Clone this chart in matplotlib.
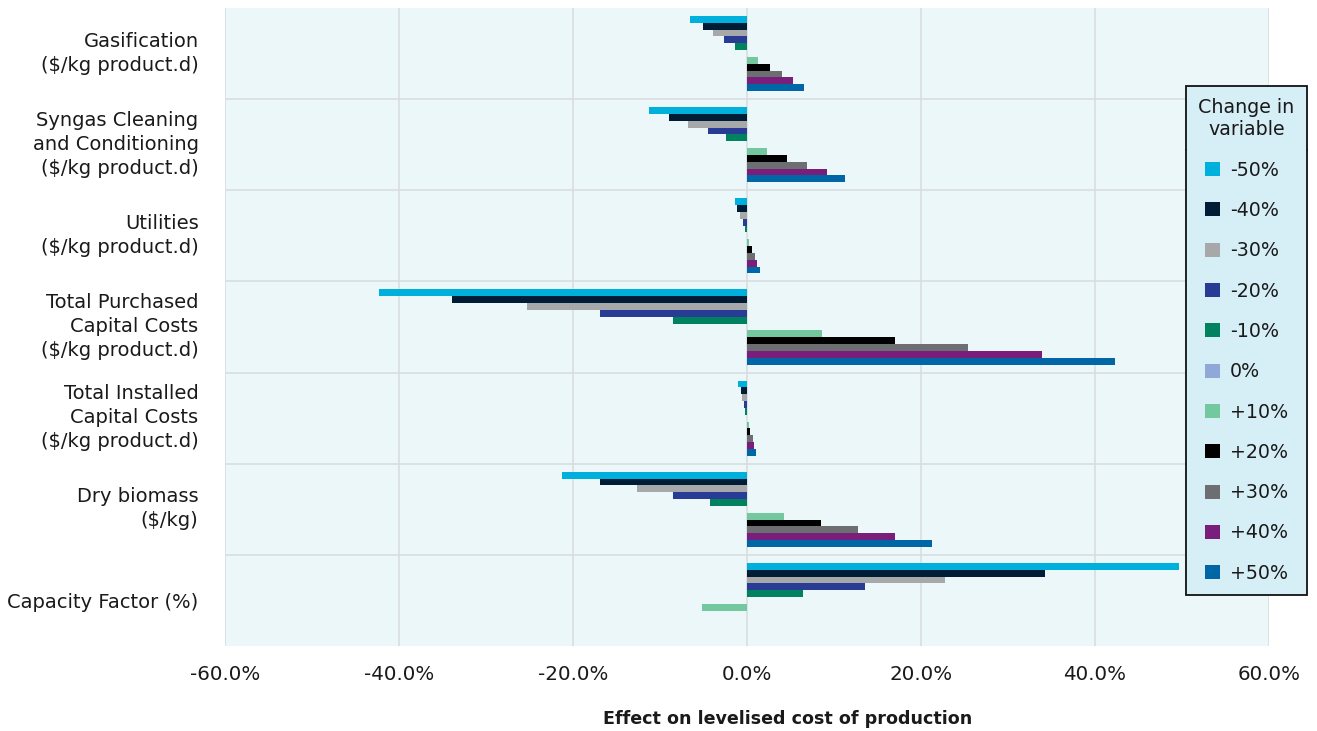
import numpy as np
import matplotlib
matplotlib.use("Agg")
import matplotlib.pyplot as plt
from matplotlib.lines import Line2D
from matplotlib.transforms import ScaledTranslation

plt.rcParams['font.family'] = ['DejaVu Sans']

categories = [
    "Gasification\n($/kg product.d)",
    "Syngas Cleaning\nand Conditioning\n($/kg product.d)",
    "Utilities\n($/kg product.d)",
    "Total Purchased\nCapital Costs\n($/kg product.d)",
    "Total Installed\nCapital Costs\n($/kg product.d)",
    "Dry biomass\n($/kg)",
    "Capacity Factor (%)",
]
series_labels = ["-50%", "-40%", "-30%", "-20%", "-10%", "0%",
                 "+10%", "+20%", "+30%", "+40%", "+50%"]
series_colors = ["#00b0dc", "#001d35", "#a7a8aa", "#283c96", "#008261", "#8fa8d8",
                 "#74c8a0", "#000000", "#6d6e71", "#7a1e7c", "#0066a6"]

# values in percent, one list per category, order -50% ... +50%
gasification = [-6.6, -5.1, -3.9, -2.6, -1.4, 0.0, 1.3, 2.7, 4.0, 5.3, 6.6]
syngas       = [-11.3, -9.0, -6.8, -4.5, -2.4, 0.0, 2.3, 4.6, 6.9, 9.2, 11.3]
utilities    = [-1.35, -1.1, -0.8, -0.45, -0.25, 0.0, 0.25, 0.55, 0.9, 1.2, 1.45]
purchased    = [-42.3, -33.9, -25.3, -16.9, -8.5, 0.0, 8.6, 17.0, 25.4, 33.9, 42.3]
installed    = [-1.0, -0.72, -0.55, -0.35, -0.2, 0.0, 0.2, 0.4, 0.65, 0.8, 1.05]
biomass      = [-21.3, -16.9, -12.7, -8.5, -4.3, 0.0, 4.2, 8.5, 12.8, 17.0, 21.3]
capacity     = [49.6, 34.3, 22.8, 13.6, 6.4, 0.0, -5.2, np.nan, np.nan, np.nan, np.nan]

xticks = [-60, -40, -20, 0, 20, 40, 60]
xtick_labels = ["-60.0%", "-40.0%", "-20.0%", "0.0%", "20.0%", "40.0%", "60.0%"]

data = np.array([gasification, syngas, utilities, purchased, installed, biomass, capacity])

W, H = 1317, 731
fig = plt.figure(figsize=(W / 100, H / 100), dpi=100)
ax = fig.add_axes([225 / W, 1 - 646 / H, (1269 - 225) / W, (646 - 8) / H])
ax.set_facecolor("#ecf7f9")

n_cat = len(categories)
n_ser = len(series_labels)
h = 0.075
ypos = np.arange(n_cat)
for j in range(n_ser):
    ax.barh(ypos + (j - (n_ser - 1) / 2) * h, data[:, j], height=h,
            color=series_colors[j], label=series_labels[j], zorder=3,
            edgecolor="none")

text_color = "#1a1a1a"
ax.set_ylim(n_cat - 0.5, -0.5)
ax.set_xlim(-60, 60)
ax.set_xticks(xticks)
ax.set_xticklabels(xtick_labels, fontsize=14.3, color=text_color)
ax.set_yticks(ypos)
ax.set_yticklabels(categories, fontsize=14, color=text_color, linespacing=1.33)
ax.set_yticks(np.arange(0.5, n_cat - 0.5, 1), minor=True)
ax.tick_params(axis="both", which="both", length=0)
ax.tick_params(axis="y", pad=19)
ax.tick_params(axis="x", pad=14)
ax.grid(axis="x", which="major", color="#d9dde0", linewidth=1.2, zorder=0)
ax.grid(axis="y", which="minor", color="#d9dde0", linewidth=1.2, zorder=0)
for s in ax.spines.values():
    s.set_visible(False)

shift = ScaledTranslation(0, 0.05, fig.dpi_scale_trans)
for lab in ax.get_yticklabels():
    if "\n" in lab.get_text():
        lab.set_transform(lab.get_transform() + shift)

ax.set_xlabel("Effect on levelised cost of production", fontsize=12.6,
              fontweight="bold", color=text_color)
ax.xaxis.set_label_coords((787.5 - 225) / (1269 - 225), -(710 - 646) / (646 - 8))

fs = 13.7
lsp = 1.12
leg = fig.legend(loc="upper left", bbox_to_anchor=(1186 / W, 1 - 86 / H),
                 title="Change in\nvariable", fontsize=fs, title_fontsize=fs,
                 frameon=True, fancybox=False, edgecolor="#111111",
                 facecolor="#d6eef6", framealpha=1, handlelength=0.78,
                 handleheight=0.75, labelspacing=lsp, borderpad=0.65,
                 handletextpad=0.55, borderaxespad=0, labelcolor=text_color)
leg.get_frame().set_linewidth(1.3)
leg.get_title().set_multialignment("center")
leg.get_title().set_linespacing(1.2)
leg.get_title().set_color(text_color)

fig.canvas.draw()
tb = leg.get_title().get_window_extent()
fb = leg.get_frame().get_window_extent()
ypix = tb.y0 - 0.5 * lsp * fs * 100 / 72
fig.add_artist(Line2D([fb.x0 / W, fb.x1 / W], [ypix / H, ypix / H],
                      transform=fig.transFigure, color="#111111", linewidth=1.3))

fig.savefig("out.png", dpi=100)
